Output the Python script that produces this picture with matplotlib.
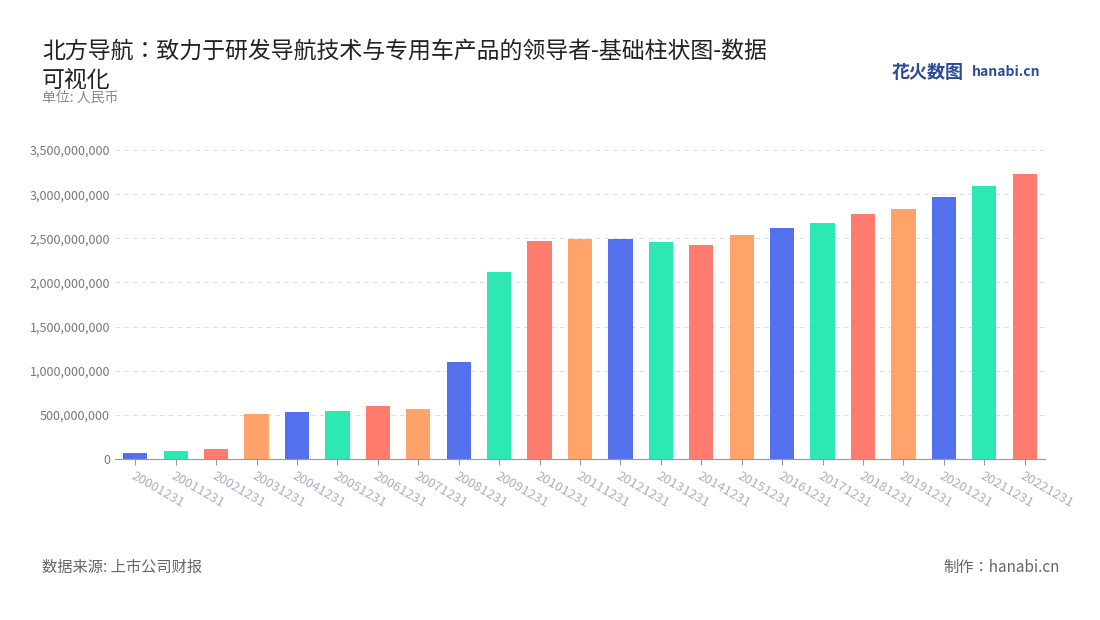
import matplotlib
matplotlib.use("Agg")
import matplotlib.pyplot as plt
from matplotlib import font_manager as fm
from matplotlib.ticker import FuncFormatter

cjk = sorted({f.name for f in fm.fontManager.ttflist if "CJK" in f.name})
sans = [n for n in cjk if "Sans" in n]
pref = [n for n in sans if n.endswith("SC")] or sans or cjk or ["DejaVu Sans"]
fam = pref[0]
plt.rcParams["font.family"] = "sans-serif"
plt.rcParams["font.sans-serif"] = [fam, "DejaVu Sans"]

categories = [f"{y}1231" for y in range(2000, 2023)]
values = [70e6, 90e6, 115e6, 510e6, 532e6, 545e6, 600e6, 566e6, 1.10e9, 2.12e9,
          2.47e9, 2.49e9, 2.49e9, 2.46e9, 2.42e9, 2.54e9, 2.62e9, 2.67e9, 2.77e9,
          2.83e9, 2.97e9, 3.09e9, 3.23e9]
palette = ["#5470ec", "#2de8b2", "#ff7b6e", "#ffa36b"]

fig = plt.figure(figsize=(11, 6.2), dpi=100)
ax = fig.add_axes([115/1100, 1-459/620, 930/1100, 309/620])
colors = [palette[i % 4] for i in range(len(values))]
ax.bar(range(len(values)), values, width=0.6, color=colors, zorder=2)
ax.set_xlim(-0.5, len(values) - 0.5)
ax.set_ylim(0, 3.5e9)
ax.set_yticks([i * 5e8 for i in range(8)])
ax.yaxis.set_major_formatter(FuncFormatter(lambda v, p: f"{int(v):,}"))
ax.set_xticks(range(len(values)))
ax.set_xticklabels(categories, rotation=-30, ha="left", rotation_mode="anchor")
ax.tick_params(axis="x", colors="#aab0c0", labelsize=9.5, length=4, color="#999999")
ax.tick_params(axis="y", colors="#777777", labelsize=9, length=0)
ax.grid(axis="y", linestyle=(0, (4, 4)), color="#dddddd", zorder=0)
for s in ["top", "right", "left"]:
    ax.spines[s].set_visible(False)
ax.spines["bottom"].set_color("#999999")

fig.text(42/1100, 1-66/620, "北方导航：致力于研发导航技术与专用车产品的领导者-基础柱状图-数据\n可视化",
         fontsize=16.5, color="#222222", va="center", linespacing=1.35)
fig.text(42/1100, 1-98/620, "单位: 人民币", fontsize=10, color="#888888", va="center")
fig.text(892/1100, 1-72/620, "花火数图", fontsize=13, color="#2a4a9a", weight="bold", va="center")
fig.text(972/1100, 1-72/620, "hanabi.cn", fontsize=10, color="#2a4a9a", weight="bold", va="center")
fig.text(42/1100, 1-567/620, "数据来源: 上市公司财报", fontsize=11, color="#666666", va="center")
fig.text(1060/1100, 1-567/620, "制作：hanabi.cn", fontsize=11, color="#666666", va="center", ha="right")
fig.savefig("out.png", dpi=100)
